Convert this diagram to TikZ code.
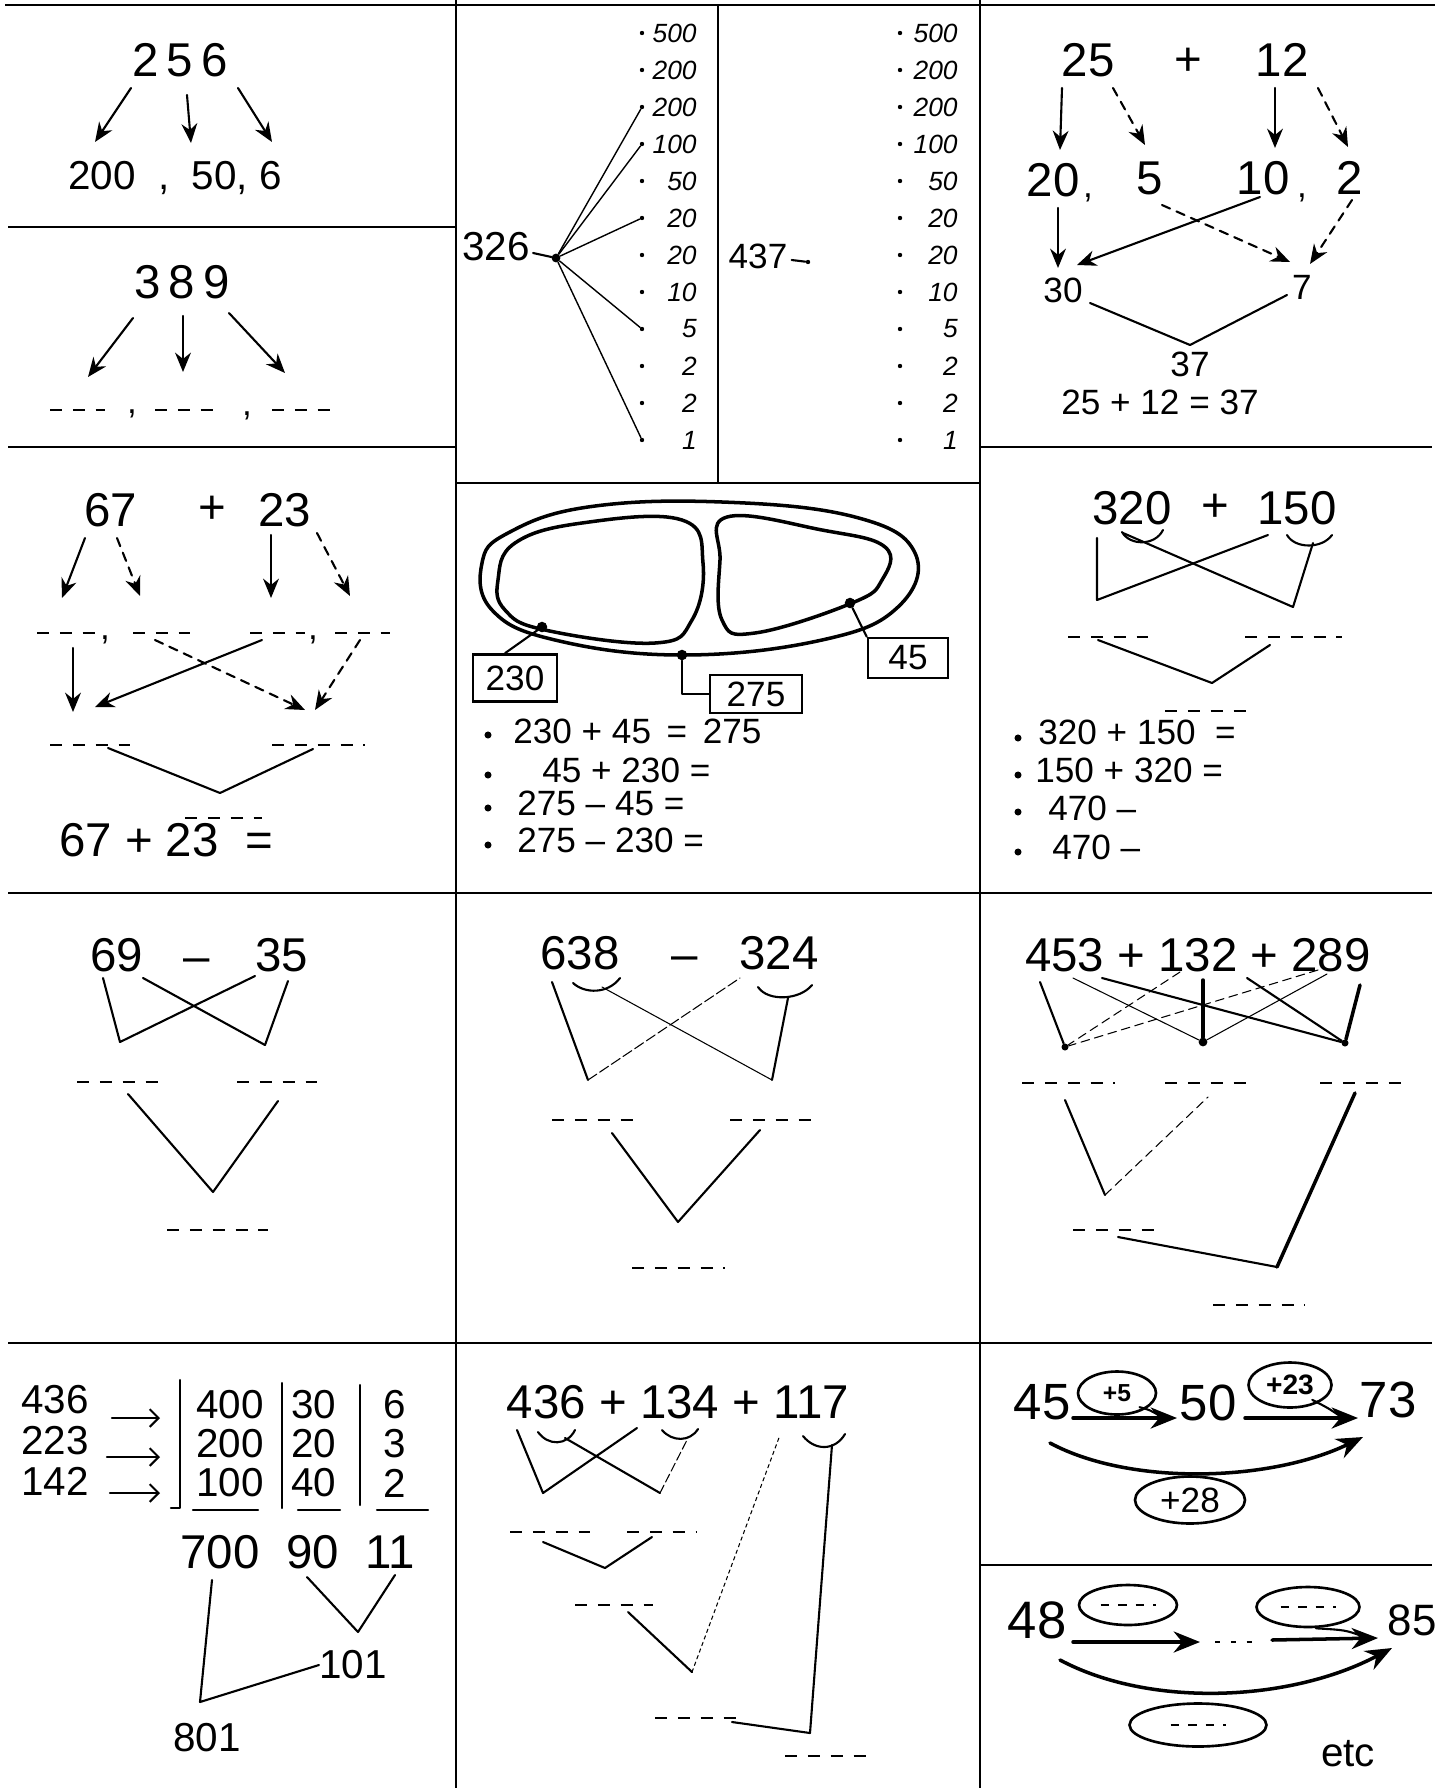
\documentclass[tikz,border=0pt]{standalone}
\usepackage{fontspec}
\setmainfont{Liberation Sans}
\usetikzlibrary{arrows.meta,shapes.geometric}
\tikzstyle{frame}=[line width=0.9pt]
\tikzstyle{bignum}=[inner sep=0pt,font=\fontsize{27}{30}\selectfont]
\tikzstyle{midnum}=[inner sep=0pt,font=\fontsize{23}{26}\selectfont]
\tikzstyle{smallnum}=[inner sep=0pt,font=\fontsize{20}{22}\selectfont]
\tikzstyle{listnum}=[inner sep=0pt,font=\fontsize{15}{17}\selectfont\itshape]
\tikzstyle{pen}=[line width=1.2pt,line cap=round,line join=round]
\tikzstyle{thinpen}=[line width=0.6pt,line cap=round]
\tikzstyle{heavy}=[line width=2pt,line cap=round,line join=round]
\tikzstyle{arr}=[pen,-{Stealth[length=11pt,width=9pt]}]
\tikzstyle{darr}=[arr,dash pattern=on 5pt off 4pt]
\tikzstyle{harr}=[pen,-{Straight Barb[length=5pt,width=10pt]}]
\tikzstyle{bigarr}=[heavy,-{Stealth[length=15pt,width=12pt]}]
\tikzstyle{blankline}=[line width=1.3pt,dash pattern=on 7pt off 6pt]
\tikzstyle{numbox}=[draw,line width=1.5pt,inner sep=2pt]
\tikzstyle{bubble}=[draw,ellipse,line width=1.5pt,inner sep=0pt,fill=white]
\tikzstyle{bullet}=[circle,fill,inner sep=0pt,minimum size=2.5pt]

\begin{document}
\begin{tikzpicture}[x=0.02cm,y=-0.02cm]
	\clip (0,0) rectangle (1439,1788);
	\fill[white] (0,0) rectangle (1439,1788);
	% frame of the sheet
	\draw[style=frame] (5,5) -- (1435,5);
	\draw[style=frame] (456,0) -- (456,1788);
	\draw[style=frame] (980,0) -- (980,1788);
	\draw[style=frame] (718,5) -- (718,483);
	\draw[style=frame] (8,227) -- (456,227);
	\draw[style=frame] (8,447) -- (456,447);
	\draw[style=frame] (980,447) -- (1432,447);
	\draw[style=frame] (456,483) -- (980,483);
	\draw[style=frame] (8,893) -- (1432,893);
	\draw[style=frame] (8,1343) -- (1432,1343);
	\draw[style=frame] (980,1565) -- (1432,1565);

	% 256
	\node [style=bignum] (n256) at (180,60) {2\,5\,6};
	\node [style=midnum] (p256) at (175,178) {200\ \ ,\ \ 50,\ 6};
	\coordinate (a1) at (131,88); \coordinate (a2) at (187,95); \coordinate (a3) at (238,88);
	\coordinate (b1) at (95,142); \coordinate (b2) at (191,143); \coordinate (b3) at (272,142);
	\draw[style=arr] (a1) -- (b1);
	\draw[style=arr] (a2) -- (b2);
	\draw[style=arr] (a3) -- (b3);

	% 389
	\node [style=bignum] (n389) at (182,282) {3\,8\,9};
	\coordinate (c1) at (133,318); \coordinate (c2) at (183,316); \coordinate (c3) at (229,313);
	\coordinate (e1) at (88,377); \coordinate (e2) at (183,372); \coordinate (e3) at (285,373);
	\draw[style=arr] (c1) -- (e1);
	\draw[style=arr] (c2) -- (e2);
	\draw[style=arr] (c3) -- (e3);
	\draw[style=blankline] (50,410) -- (105,410);
	\draw[style=blankline] (155,410) -- (218,410);
	\draw[style=blankline] (272,410) -- (338,410);
	\node [style=smallnum] (k1) at (132,414) {,};
	\node [style=smallnum] (k2) at (247,416) {,};

	% 326
	\node [style=midnum] (n326) at (496,247) {326};
	\node [style=bullet,minimum size=5pt] (hub) at (556,258) {};
	\draw[style=pen] (n326.east) ++(3,6) -- (hub);
	\foreach \v [count=\i] in {500,200,200,100,50,20,20,10,5,2,2,1} {
		\node [style=bullet] (L\i) at (642,{33+37*(\i-1)}) {};
		\node [style=listnum,anchor=east] (Lt\i) at (697,{33+37*(\i-1)}) {\v};
		\node [style=bullet] (R\i) at (900,{33+37*(\i-1)}) {};
		\node [style=listnum,anchor=east] (Rt\i) at (958,{33+37*(\i-1)}) {\v};
	}
	\foreach \i in {3,4,6,9,12}
		\draw[style=thinpen,line width=0.8pt] (hub) -- (L\i);
	\node [style=smallnum] (n437) at (758,256) {437};
	\node [style=bullet] (h437) at (808,262) {};
	\draw[style=pen] (n437.east) ++(4,4) -- (h437);

	% 25 + 12
	\node [style=bignum] (n25) at (1088,60) {25};
	\node [style=bignum] (plus1) at (1188,62) {+};
	\node [style=bignum] (n12) at (1282,60) {12};
	\node [style=bignum] (n20) at (1053,180) {20};
	\node [style=smallnum] (k3) at (1088,198) {,};
	\node [style=bignum] (n5) at (1150,178) {5};
	\node [style=bignum] (n10) at (1263,178) {10};
	\node [style=smallnum] (k4) at (1302,198) {,};
	\node [style=bignum] (n2) at (1350,178) {2};
	\node [style=smallnum] (n30) at (1063,290) {30};
	\node [style=smallnum] (n7) at (1302,287) {7};
	\node [style=smallnum] (n37) at (1190,364) {37};
	\node [style=smallnum] (eq37) at (1160,402) {25 + 12 = 37};
	\draw[style=arr] (1062,88) -- (1060,150);
	\draw[style=darr] (1113,88) -- (1145,145);
	\draw[style=arr] (1275,88) -- (1275,148);
	\draw[style=darr] (1318,88) -- (1348,147);
	\draw[style=arr] (1058,208) -- (1058,268);
	\draw[style=arr] (1260,197) -- (1077,265);
	\draw[style=darr] (1162,205) -- (1290,262);
	\draw[style=darr] (1352,200) -- (1310,264);
	\coordinate (v37) at (1190,345);
	\draw[style=pen] (1090,303) -- (v37) -- (1287,295);

	% 67 + 23
	\node [style=bignum] (n67) at (111,510) {67};
	\node [style=bignum] (plus2) at (212,510) {+};
	\node [style=bignum] (n23) at (285,510) {23};
	\draw[style=arr] (85,538) -- (62,598);
	\draw[style=darr] (117,538) -- (140,596);
	\draw[style=arr] (271,535) -- (271,598);
	\draw[style=darr] (317,533) -- (350,596);
	\draw[style=blankline] (37,633) -- (98,633);
	\draw[style=blankline] (133,633) -- (190,633);
	\draw[style=blankline] (250,633) -- (305,633);
	\draw[style=blankline] (335,633) -- (390,633);
	\node [style=smallnum] (k5) at (105,640) {,};
	\node [style=smallnum] (k6) at (313,640) {,};
	\draw[style=arr] (73,648) -- (73,712);
	\draw[style=arr] (262,640) -- (95,707);
	\draw[style=darr] (155,640) -- (305,710);
	\draw[style=darr] (360,640) -- (315,710);
	\draw[style=blankline] (50,745) -- (130,745);
	\draw[style=blankline] (272,745) -- (365,745);
	\draw[style=pen] (108,748) -- (220,793) -- (313,749);
	\node [style=bignum] (eq90) at (166,840) {67 + 23 \ =};
	\draw[style=blankline,line width=1pt] (185,818) -- (262,818);

	% track with three boxes
	\draw[style=heavy] plot[smooth cycle,tension=0.7] coordinates {(482,563) (508,533) (588,507) (722,502) (855,517) (915,553) (898,607) (822,640) (682,655) (555,640) (492,610)};
	\draw[style=heavy] plot[smooth cycle,tension=0.7] coordinates {(498,580) (515,543) (582,523) (682,520) (703,563) (692,620) (655,643) (545,630) (505,610)};
	\draw[style=heavy] plot[smooth cycle,tension=0.7] coordinates {(727,517) (822,530) (885,547) (882,580) (852,603) (755,633) (722,620) (720,560)};
	\node [style=bullet,minimum size=6pt] (d230) at (542,627) {};
	\node [style=bullet,minimum size=6pt] (d275) at (682,655) {};
	\node [style=bullet,minimum size=6pt] (d45) at (850,603) {};
	\node [style=numbox,style=smallnum,minimum width=1.68cm,minimum height=0.94cm] (b230) at (515,678) {230};
	\node [style=numbox,style=smallnum,minimum width=1.84cm,minimum height=0.76cm] (b275) at (756,694) {275};
	\node [style=numbox,style=smallnum,minimum width=1.6cm,minimum height=0.8cm] (b45) at (908,658) {45};
	\draw[style=pen] (d230) -- ([xshift=-0.2cm]b230.north);
	\draw[style=pen] (d275) |- (b275.west);
	\draw[style=pen] (d45) -- (b45.north west);
	\foreach \y in {735,775,808,845}
		\node [style=bullet,minimum size=4pt] at (488,\y) {};
	\node [style=smallnum,anchor=west] (q1) at (513,731) {230 + 45 \,=\, 275};
	\node [style=smallnum,anchor=west] (q2) at (542,770) {45 + 230 =};
	\node [style=smallnum,anchor=west] (q3) at (517,803) {275 – 45 =};
	\node [style=smallnum,anchor=west] (q4) at (517,840) {275 – 230 =};

	% 320 + 150
	\node [style=bignum] (n320) at (1132,508) {320};
	\node [style=bignum] (plus3) at (1215,508) {+};
	\node [style=bignum] (n150) at (1297,508) {150};
	\draw[style=pen] (1122,532) .. controls (1130,546) and (1155,546) .. (1163,530);
	\draw[style=pen] (1287,535) .. controls (1295,549) and (1322,549) .. (1332,535);
	\coordinate (f1) at (1097,600); \coordinate (f2) at (1293,607);
	\draw[style=pen] (1097,538) -- (f1) -- (1268,535);
	\draw[style=pen] (1123,533) -- (f2) -- (1313,543);
	\draw[style=blankline] (1068,637) -- (1148,637);
	\draw[style=blankline] (1245,637) -- (1342,637);
	\draw[style=pen] (1098,640) -- (1212,683) -- (1270,645);
	\foreach \y in {738,775,812,852}
		\node [style=bullet,minimum size=4pt] at (1018,\y) {};
	\node [style=smallnum,anchor=west] (r1) at (1038,732) {320 + 150 \ =};
	\draw[style=blankline,line width=1pt] (1165,711) -- (1255,711);
	\node [style=smallnum,anchor=west] (r2) at (1035,770) {150 + 320 =};
	\node [style=smallnum,anchor=west] (r3) at (1048,808) {470 –};
	\node [style=smallnum,anchor=west] (r4) at (1052,847) {470 –};

	% 69 - 35
	\node [style=bignum] (n69) at (117,955) {69};
	\node [style=bignum] (minus1) at (197,966) {–};
	\node [style=bignum] (n35) at (282,955) {35};
	\coordinate (g1) at (120,1042); \coordinate (g2) at (265,1045); \coordinate (g3) at (213,1192);
	\draw[style=pen] (103,978) -- (g1) -- (255,976);
	\draw[style=pen] (143,978) -- (g2) -- (288,981);
	\draw[style=blankline] (77,1082) -- (165,1082);
	\draw[style=blankline] (237,1082) -- (317,1082);
	\draw[style=pen] (128,1094) -- (g3) -- (278,1101);
	\draw[style=blankline] (167,1230) -- (268,1230);

	% 638 - 324
	\node [style=bignum] (n638) at (580,953) {638};
	\node [style=bignum] (minus2) at (685,964) {–};
	\node [style=bignum] (n324) at (779,953) {324};
	\draw[style=pen] (573,983) .. controls (585,994) and (608,994) .. (620,978);
	\draw[style=pen] (758,987) .. controls (768,1002) and (800,1000) .. (812,985);
	\coordinate (h1) at (588,1080); \coordinate (h2) at (772,1080); \coordinate (h3) at (678,1222);
	\draw[style=pen] (552,982) -- (h1);
	\draw[style=thinpen,dash pattern=on 6pt off 2pt] (h1) -- (740,978);
	\draw[style=thinpen] (602,987) -- (h2);
	\draw[style=pen] (h2) -- (788,998);
	\draw[style=blankline] (552,1120) -- (637,1120);
	\draw[style=blankline] (730,1120) -- (820,1120);
	\draw[style=pen] (612,1133) -- (h3) -- (760,1130);
	\draw[style=blankline] (632,1268) -- (725,1268);

	% 453 + 132 + 289
	\node [style=bignum] (n453) at (1198,955) {453 + 132 + 289};
	\node [style=bullet,minimum size=4pt] (P1) at (1065,1047) {};
	\node [style=bullet,minimum size=5pt] (P2) at (1203,1042) {};
	\node [style=bullet,minimum size=4pt] (P3) at (1345,1043) {};
	\draw[style=pen] (1040,982) -- (P1);
	\draw[style=thinpen,dash pattern=on 5pt off 3pt] (1180,972) -- (P1);
	\draw[style=thinpen,dash pattern=on 5pt off 3pt] (1318,970) -- (P1);
	\draw[style=thinpen] (1073,978) -- (P2);
	\draw[style=heavy] (1203,980) -- (P2);
	\draw[style=thinpen] (1327,974) -- (P2);
	\draw[style=pen] (1102,978) -- (P3);
	\draw[style=pen] (1247,978) -- (P3);
	\draw[style=heavy] (1360,985) -- (P3);
	\draw[style=blankline] (1022,1083) -- (1115,1083);
	\draw[style=blankline] (1165,1083) -- (1248,1083);
	\draw[style=blankline] (1320,1083) -- (1405,1083);
	\coordinate (i1) at (1105,1195); \coordinate (i2) at (1277,1267);
	\draw[style=pen] (1065,1100) -- (i1);
	\draw[style=thinpen,dash pattern=on 5pt off 3pt] (i1) -- (1208,1097);
	\draw[style=heavy] (1355,1093) -- (i2);
	\draw[style=pen] (i2) -- (1118,1237);
	\draw[style=blankline] (1073,1230) -- (1155,1230);
	\draw[style=blankline] (1213,1305) -- (1305,1305);

	% column addition
	\node [style=midnum] (s1) at (55,1400) {436};
	\node [style=midnum] (s2) at (55,1441) {223};
	\node [style=midnum] (s3) at (55,1481) {142};
	\coordinate (t1) at (160,1418); \coordinate (t2) at (160,1457); \coordinate (t3) at (160,1493);
	\draw[style=harr] (112,1418) -- (t1);
	\draw[style=harr] (107,1457) -- (t2);
	\draw[style=harr] (110,1493) -- (t3);
	\draw[style=pen] (180,1380) -- (180,1508) -- (171,1508);
	\draw[style=pen] (282,1383) -- (282,1508);
	\draw[style=pen] (360,1385) -- (360,1505);
	\foreach \a/\b/\c [count=\i] in {400/30/6,200/20/3,100/40/2} {
		\node [style=midnum] (u\i) at (230,{1405+39*(\i-1)}) {\a};
		\node [style=midnum] (w\i) at (314,{1405+39*(\i-1)}) {\b};
		\node [style=midnum] (z\i) at (395,{1405+39*(\i-1)}) {\c};
	}
	\draw[style=pen] (193,1510) -- (258,1510);
	\draw[style=pen] (298,1510) -- (340,1510);
	\draw[style=pen] (377,1510) -- (428,1510);
	\node [style=bignum] (n700) at (220,1552) {700};
	\node [style=bignum] (n90) at (313,1552) {90};
	\node [style=bignum] (n11) at (390,1552) {11};
	\node [style=midnum] (n101) at (353,1665) {101};
	\node [style=midnum] (n801) at (207,1738) {801};
	\coordinate (j1) at (358,1632); \coordinate (j2) at (200,1702);
	\draw[style=pen] (307,1577) -- (j1) -- (395,1575);
	\draw[style=pen] (212,1580) -- (j2) -- (n101.west);

	% 436 + 134 + 117
	\node [style=bignum] (n436) at (678,1402) {436 + 134 + 117};
	\draw[style=pen] (538,1432) .. controls (548,1446) and (567,1446) .. (575,1430);
	\draw[style=pen] (662,1430) .. controls (672,1442) and (690,1442) .. (698,1429);
	\draw[style=pen] (803,1436) .. controls (815,1451) and (835,1451) .. (845,1434);
	\coordinate (m1) at (543,1493); \coordinate (m2) at (660,1493);
	\coordinate (m3) at (605,1568); \coordinate (m4) at (692,1672); \coordinate (m5) at (810,1733);
	\draw[style=pen] (517,1430) -- (m1) -- (637,1428);
	\draw[style=pen] (565,1438) -- (m2);
	\draw[style=thinpen,dash pattern=on 5pt off 2pt] (m2) -- (688,1438);
	\draw[style=blankline] (510,1532) -- (590,1532);
	\draw[style=blankline] (627,1532) -- (697,1532);
	\draw[style=pen] (543,1542) -- (m3) -- (652,1537);
	\draw[style=blankline] (575,1605) -- (653,1605);
	\draw[style=pen] (628,1612) -- (m4);
	\draw[style=thinpen,dash pattern=on 2pt off 2pt] (m4) -- (780,1435);
	\draw[style=blankline] (655,1718) -- (745,1718);
	\draw[style=pen] (732,1722) -- (m5) -- (832,1445);
	\draw[style=blankline] (785,1756) -- (875,1756);

	% 45 -> 50 -> 73
	\node [style=bignum,font=\fontsize{29}{32}\selectfont] (n45) at (1042,1402) {45};
	\node [style=bignum,font=\fontsize{29}{32}\selectfont] (n50) at (1208,1403) {50};
	\node [style=bignum,font=\fontsize{29}{32}\selectfont] (n73) at (1388,1400) {73};
	\node [style=bubble,minimum width=1.56cm,minimum height=0.86cm,font=\fontsize{14}{16}\selectfont\bfseries] (o5) at (1117,1393) {+5};
	\node [style=bubble,minimum width=1.66cm,minimum height=0.9cm,font=\fontsize{16}{18}\selectfont\bfseries] (o23) at (1290,1385) {+23};
	\coordinate (x1) at (1177,1418); \coordinate (x2) at (1358,1418);
	\draw[style=bigarr] (1073,1418) -- (x1);
	\draw[style=bigarr] (1245,1418) -- (x2);
	\draw[style=pen] (o5.south east) ++(-6,-2) .. controls (1150,1410) .. (1160,1416);
	\draw[style=pen] (o23.south east) ++(-8,-2) .. controls (1328,1408) .. (1340,1416);
	\coordinate (x3) at (1363,1437);
	\draw[style=bigarr] (1050,1443) .. controls (1130,1486) and (1270,1482) .. (x3);
	\node [style=bubble,minimum width=2.2cm,minimum height=0.94cm,font=\fontsize{20}{22}\selectfont] (o28) at (1190,1500) {+28};

	% 48 -> 85
	\node [style=bignum,font=\fontsize{30}{32}\selectfont] (n48) at (1037,1620) {48};
	\node [style=bignum,font=\fontsize{25}{28}\selectfont] (n85) at (1412,1620) {85};
	\node [style=bubble,minimum width=1.96cm,minimum height=0.8cm] (o1) at (1128,1605) {};
	\node [style=bubble,minimum width=2.06cm,minimum height=0.8cm] (o2) at (1308,1607) {};
	\node [style=bubble,minimum width=2.74cm,minimum height=0.86cm] (o3) at (1198,1725) {};
	\foreach \o in {o1,o2,o3}
		\draw[style=blankline,dash pattern=on 5pt off 5pt] ([xshift=-0.55cm]\o.center) -- ([xshift=0.55cm]\o.center);
	\coordinate (y1) at (1200,1642); \coordinate (y2) at (1378,1638);
	\draw[style=bigarr] (1073,1642) -- (y1);
	\draw[style=blankline,dash pattern=on 3pt off 6pt] (1215,1642) -- (1262,1642);
	\draw[style=bigarr] (1272,1640) -- (y2);
	\draw[style=pen] (o2.south) ++(8,0) .. controls (1345,1630) .. (1362,1636);
	\coordinate (y3) at (1392,1648);
	\draw[style=bigarr] (1060,1660) .. controls (1150,1708) and (1290,1702) .. (y3);
	\node [style=midnum,anchor=base] (etc) at (1348,1766) {etc};
\end{tikzpicture}
\end{document}
